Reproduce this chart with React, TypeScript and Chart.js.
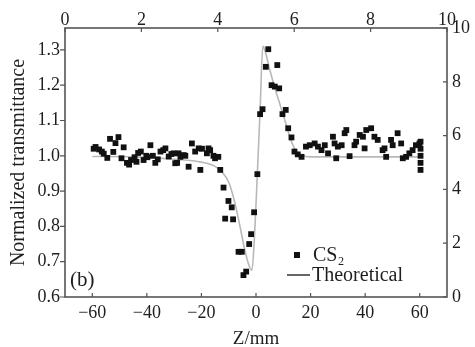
import React, { useEffect, useRef } from 'react';
import { Chart, registerables } from 'chart.js';

Chart.register(...registerables);

// ---- data ----
const zPositions = [
  -59.5, -58.8, -57.5, -56.5, -55.8, -54.5, -53.5, -52.3, -51.5, -50.4,
  -49.3, -48.5, -47.3, -46.5, -45.8, -44.5, -43.8, -43.2, -42.2, -41.2,
  -40.2, -39.8, -38.7, -37.8, -36.9, -36.0, -35.0, -34.0, -33.2, -32.0,
  -31.0, -30.2, -29.6, -28.9, -28.4, -27.7, -26.5, -25.9, -24.7, -23.5,
  -22.3, -21.0, -20.4, -19.8, -18.0, -17.4, -16.8, -15.6, -15.0, -13.8,
  -13.1, -11.9, -11.3, -10.1, -8.9, -8.4, -6.4, -5.2, -4.6, -3.6,
  -2.5, -1.8, -0.7, 0.5, 1.5, 2.4, 3.6, 4.5, 5.7, 6.9,
  7.8, 8.5, 9.7, 10.9, 11.8, 13.0, 14.1, 15.3, 16.7, 18.3,
  19.7, 21.5, 22.7, 24.0, 25.2, 26.4, 28.2, 28.8, 29.4, 30.0,
  31.4, 32.5, 33.1, 34.3, 36.1, 36.7, 38.0, 39.2, 39.8, 40.4,
  42.2, 43.4, 44.6, 46.4, 47.1, 47.7, 49.5, 50.1, 51.9, 53.2,
  53.8, 55.0, 56.2, 57.4, 58.6, 59.9, 60.3, 60.3, 60.3, 60.3, 60.3,
];
const transmittance = [
  1.02, 1.025, 1.018, 1.012, 1.006, 0.994, 1.048, 1.011, 1.036, 1.053,
  0.993, 1.024, 0.98, 0.975, 0.988, 0.996, 0.983, 1.008, 1.012, 0.988,
  1.0, 0.996, 1.03, 1.0, 0.98, 0.99, 1.012, 1.016, 1.021, 0.998,
  1.005, 1.007, 0.979, 0.98, 1.007, 0.997, 1.002, 1.0, 0.969, 1.035,
  1.012, 1.021, 0.96, 1.02, 1.007, 1.021, 1.016, 1.0, 0.993, 0.997,
  0.96, 0.91, 0.822, 0.872, 0.854, 0.82, 0.728, 0.728, 0.662, 0.672,
  0.75, 0.778, 0.84, 0.948, 1.118, 1.132, 1.252, 1.302, 1.2, 1.196,
  1.257, 1.191, 1.118, 1.13, 1.078, 1.052, 1.012, 1.004, 0.997, 1.026,
  1.03, 1.035, 1.026, 1.016, 1.03, 1.007, 1.054, 1.035, 0.993, 1.026,
  1.03, 1.064, 1.073, 0.999, 1.03, 1.04, 1.059, 1.054, 1.021, 1.073,
  1.078, 1.054, 1.045, 1.016, 1.021, 0.997, 1.045, 1.03, 1.064, 1.035,
  0.993, 0.997, 1.007, 1.016, 1.03, 1.035, 1.04, 1.02, 1.0, 0.98, 0.96,
];
const theoryZ = [
  -60, -45, -30, -20, -15, -12, -10, -8, -6, -4, -2.5, -1.5, -0.5, 0.5, 1.5, 2.5,
  3, 5, 7, 9, 11, 13, 15, 17, 20, 40, 60,
];
const theoryT = [
  0.998, 0.997, 0.99, 0.982, 0.97, 0.95, 0.925, 0.875, 0.805, 0.73, 0.688, 0.676, 0.78, 0.95, 1.13, 1.31,
  1.305, 1.245, 1.19, 1.14, 1.09, 1.04, 1.01, 1.0, 0.997, 0.997, 0.997,
];
const seriesLabels = ['CS\u2082', 'Theoretical'];
const leftTicks = [0.6, 0.7, 0.8, 0.9, 1.0, 1.1, 1.2, 1.3];
const rightTicks = [0, 2, 4, 6, 8, 10];
const bottomTicks = [-60, -40, -20, 0, 20, 40, 60];
const topTicks = [0, 2, 4, 6, 8, 10];
const xTitle = 'Z/mm';
const yTitle = 'Normalized transmittance';
const panelLabel = '(b)';

const FONT = "'Liberation Serif', 'Times New Roman', serif";
const TEXT = '#1e1e1e';

const decorPlugin = {
  id: 'decor',
  afterDraw(chart: any) {
    const { ctx, chartArea: a, scales } = chart;
    ctx.save();
    // frame
    ctx.strokeStyle = '#555';
    ctx.lineWidth = 1.6;
    ctx.strokeRect(a.left, a.top, a.right - a.left, a.bottom - a.top);
    // tick marks
    ctx.lineWidth = 1.2;
    ctx.beginPath();
    leftTicks.forEach((v) => {
      const y = scales.y.getPixelForValue(v);
      ctx.moveTo(a.left - 5, y);
      ctx.lineTo(a.left, y);
    });
    rightTicks.forEach((v) => {
      const y = scales.y2.getPixelForValue(v);
      ctx.moveTo(a.right - 4, y);
      ctx.lineTo(a.right, y);
    });
    bottomTicks.forEach((v) => {
      const x = scales.x.getPixelForValue(v);
      ctx.moveTo(x, a.bottom);
      ctx.lineTo(x, a.bottom - 4);
    });
    topTicks.forEach((v) => {
      const x = scales.x2.getPixelForValue(v);
      ctx.moveTo(x, a.top);
      ctx.lineTo(x, a.top + 4);
    });
    ctx.stroke();

    // axis titles
    ctx.fillStyle = TEXT;
    ctx.font = `19px ${FONT}`;
    ctx.textAlign = 'center';
    ctx.textBaseline = 'middle';
    ctx.fillText(xTitle, (a.left + a.right) / 2, 339);
    ctx.save();
    ctx.translate(19, (a.top + a.bottom) / 2);
    ctx.rotate(-Math.PI / 2);
    ctx.font = `20px ${FONT}`;
    ctx.fillText(yTitle, 0, 0);
    ctx.restore();

    // panel label
    ctx.font = `21px ${FONT}`;
    ctx.textAlign = 'left';
    ctx.fillText(panelLabel, a.left + 5, 280);

    // legend
    const ds = chart.data.datasets;
    ctx.font = `20px ${FONT}`;
    ctx.fillStyle = '#111';
    ctx.fillRect(294, 252, 6, 6);
    ctx.fillStyle = TEXT;
    ctx.fillText(ds[0].label, 313, 256);
    ctx.strokeStyle = '#333';
    ctx.lineWidth = 1.5;
    ctx.beginPath();
    ctx.moveTo(287, 275);
    ctx.lineTo(310, 275);
    ctx.stroke();
    ctx.fillText(ds[1].label, 312, 276);
    ctx.restore();
  },
};

export default function App() {
  const ref = useRef<HTMLCanvasElement>(null);
  useEffect(() => {
    if (!ref.current) return;
    const tickFont = { family: FONT, size: 18 };
    const chart = new Chart(ref.current, {
      type: 'scatter',
      data: {
        datasets: [
          {
            label: seriesLabels[0],
            data: zPositions.map((z, i) => ({ x: z, y: transmittance[i] })),
            pointStyle: 'rect',
            pointRadius: 4.1,
            backgroundColor: '#111',
            borderColor: '#111',
            borderWidth: 0,
            xAxisID: 'x',
            yAxisID: 'y',
          },
          {
            label: seriesLabels[1],
            data: theoryZ.map((z, i) => ({ x: z, y: theoryT[i] })),
            showLine: true,
            pointRadius: 0,
            borderColor: '#b8b8b8',
            borderWidth: 1.6,
            cubicInterpolationMode: 'monotone',
            xAxisID: 'x',
            yAxisID: 'y',
          } as any,
        ],
      },
      options: {
        responsive: false,
        animation: false,
        layout: { padding: 0 },
        plugins: { legend: { display: false }, tooltip: { enabled: false } },
        scales: {
          x: {
            type: 'linear',
            position: 'bottom',
            min: -70,
            max: 70,
            grid: { display: false, drawTicks: false },
            border: { display: false },
            afterBuildTicks: (s: any) => { s.ticks = bottomTicks.map((v) => ({ value: v })); },
            afterFit: (s: any) => { s.height = 50; },
            ticks: {
              font: tickFont, color: TEXT, padding: 5, maxRotation: 0, autoSkip: false,
              callback: (v: any) => (v < 0 ? '\u2212' + Math.abs(v) : String(v)),
            },
          },
          x2: {
            type: 'linear',
            position: 'top',
            display: true,
            min: 0,
            max: 10,
            grid: { display: false, drawTicks: false },
            border: { display: false },
            afterBuildTicks: (s: any) => { s.ticks = topTicks.map((v) => ({ value: v })); },
            afterFit: (s: any) => { s.height = 28; },
            ticks: { font: tickFont, color: TEXT, padding: -3, maxRotation: 0, autoSkip: false },
          },
          y: {
            type: 'linear',
            position: 'left',
            min: 0.6,
            max: 1.362,
            grid: { display: false, drawTicks: false },
            border: { display: false },
            afterBuildTicks: (s: any) => { s.ticks = leftTicks.map((v) => ({ value: v })); },
            afterFit: (s: any) => { s.width = 65; },
            ticks: {
              font: tickFont, color: TEXT, padding: 5, autoSkip: false,
              callback: (v: any) => Number(v).toFixed(1),
            },
          },
          y2: {
            type: 'linear',
            position: 'right',
            display: true,
            min: 0,
            max: 10,
            grid: { display: false, drawTicks: false },
            border: { display: false },
            afterBuildTicks: (s: any) => { s.ticks = rightTicks.map((v) => ({ value: v })); },
            afterFit: (s: any) => { s.width = 28; },
            ticks: { font: tickFont, color: TEXT, padding: 5, autoSkip: false },
          },
        },
      } as any,
      plugins: [decorPlugin],
    });
    return () => chart.destroy();
  }, []);

  return (
    <div style={{ position: 'absolute', left: 0, top: 0, width: 475, height: 347, background: '#fff' }}>
      <canvas ref={ref} width={475} height={347} style={{ display: 'block' }} />
    </div>
  );
}
